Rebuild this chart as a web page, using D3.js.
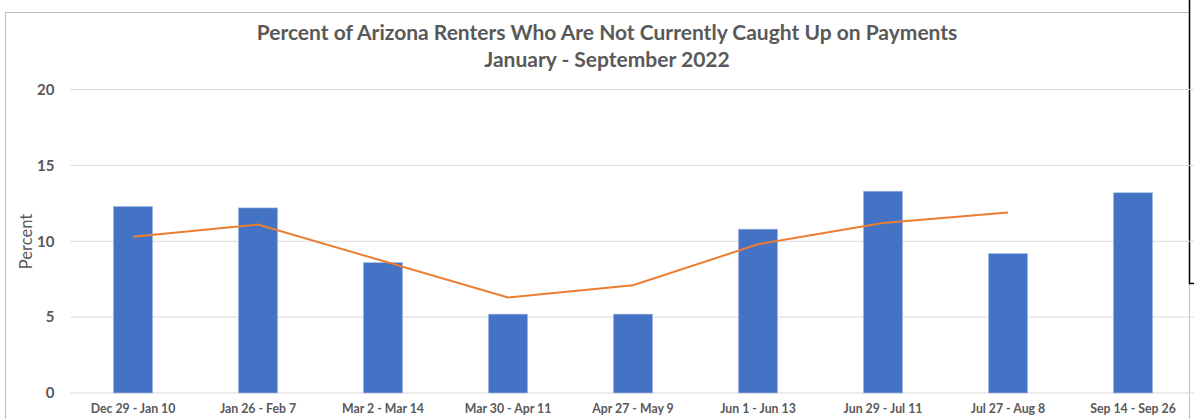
<!DOCTYPE html>
<html lang="en">
<head>
<meta charset="utf-8">
<title>Arizona renters behind on payments</title>
<script src="https://d3js.org/d3.v7.min.js"></script>
<style>
body { margin: 0; background: #fff; }
svg text { font-family: Lato, "Open Sans", sans-serif; fill: #595959; }
.tick text { font-weight: bold; }
</style>
</head>
<body>
<div id="chart"></div>
<script>
// data
var periods = ["Dec 29 - Jan 10", "Jan 26 - Feb 7", "Mar 2 - Mar 14", "Mar 30 - Apr 11",
  "Apr 27 - May 9", "Jun 1 - Jun 13", "Jun 29 - Jul 11", "Jul 27 - Aug 8", "Sep 14 - Sep 26"];
var barValues = [12.3, 12.2, 8.6, 5.2, 5.2, 10.8, 13.3, 9.2, 13.2];
var lineValues = [10.3, 11.1, 8.7, 6.3, 7.1, 9.8, 11.2, 11.9, null];
var yTicks = [0, 5, 10, 15, 20];

var W = 1194, H = 419;
var margin = {top: 89.5, right: -1.5, bottom: 26, left: 70.5};

var svg = d3.select("#chart").append("svg")
    .attr("width", W)
    .attr("height", H);

// chart frame
svg.append("rect")
    .attr("x", 5.5).attr("y", 12.5)
    .attr("width", 1184).attr("height", 420)
    .attr("fill", "none").attr("stroke", "#bfbfbf");
svg.append("path")
    .attr("d", "M1189.5,0 V283.5 H1194")
    .attr("fill", "none").attr("stroke", "#000").attr("stroke-width", 1.5);

var g = svg.append("g")
    .attr("transform", "translate(" + margin.left + "," + margin.top + ")");

var width = W - margin.left - margin.right,
    height = H - margin.top - margin.bottom;

var x = d3.scaleBand().domain(periods).range([0, width]).padding(0);
var y = d3.scaleLinear().domain([0, 20]).range([height, 0]);

// gridlines
g.append("g")
  .selectAll("line")
  .data(yTicks)
  .enter().append("line")
    .attr("x1", 0).attr("x2", width)
    .attr("y1", function(d) { return y(d); })
    .attr("y2", function(d) { return y(d); })
    .attr("stroke", "#d9d9d9")
    .attr("stroke-width", 1);

// y axis
var yAxis = g.append("g")
    .call(d3.axisLeft(y).tickValues(yTicks).tickSize(0).tickPadding(16));
yAxis.select(".domain").remove();
yAxis.selectAll("text").style("font-size", "15px");

// x axis
var xAxis = g.append("g")
    .attr("transform", "translate(0," + height + ")")
    .call(d3.axisBottom(x).tickSize(0).tickPadding(11));
xAxis.select(".domain").remove();
xAxis.selectAll("text").style("font-size", "12.3px");

// bars
var barW = x.bandwidth() * 0.315;
g.append("g")
  .selectAll("rect")
  .data(barValues)
  .enter().append("rect")
    .attr("x", function(d, i) { return x(periods[i]) + (x.bandwidth() - barW) / 2; })
    .attr("y", function(d) { return y(d); })
    .attr("width", barW)
    .attr("height", function(d) { return y(0) - y(d); })
    .attr("fill", "#4472c4")
    .attr("stroke", "#b4c7e7")
    .attr("stroke-width", 0.6);

// line
var line = d3.line()
    .defined(function(d) { return d != null; })
    .x(function(d, i) { return x(periods[i]) + x.bandwidth() / 2; })
    .y(function(d) { return y(d); });

g.append("path")
    .datum(lineValues)
    .attr("fill", "none")
    .attr("stroke", "#ed7d31")
    .attr("stroke-width", 2)
    .attr("d", line);

// y label
svg.append("text")
    .attr("transform", "translate(32,241.5) rotate(-90)")
    .attr("text-anchor", "middle")
    .style("font-size", "16.5px")
    .text("Percent");

// title
svg.append("text")
    .attr("x", 607).attr("y", 39.5)
    .attr("text-anchor", "middle")
    .style("font-size", "21px").style("font-weight", "bold")
    .text("Percent of Arizona Renters Who Are Not Currently Caught Up on Payments");
svg.append("text")
    .attr("x", 607).attr("y", 67)
    .attr("text-anchor", "middle")
    .style("font-size", "21px").style("font-weight", "bold")
    .text("January - September 2022");
</script>
</body>
</html>
